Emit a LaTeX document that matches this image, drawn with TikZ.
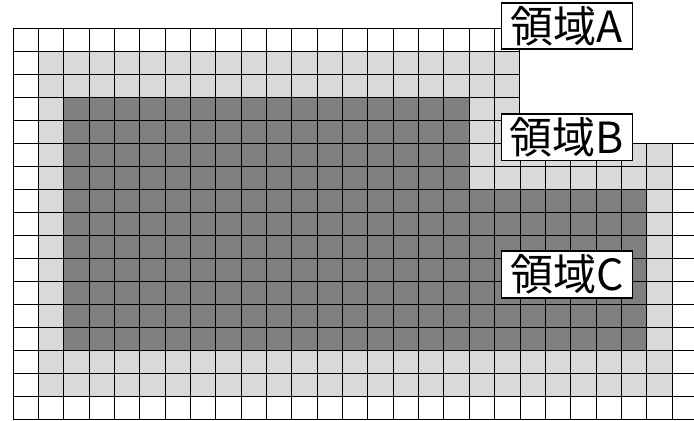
\documentclass[tikz,border=0pt]{standalone}
\usepackage{fontspec}
\newfontfamily\jpfont{Noto Sans CJK JP}
\definecolor{svetlo}{HTML}{D9D9D9}
\definecolor{temno}{HTML}{808080}

\begin{document}
\begin{tikzpicture}[xscale=0.8913, yscale=0.8084,
  oblast/.style={draw, fill=white, line width=1.8pt, inner sep=0pt,
    minimum width=131pt, minimum height=46.6pt,
    font=\jpfont\fontsize{43}{43}\selectfont}]
  \useasboundingbox (-0.513,-0.074) rectangle (26.864,18.23);
  \clip (-0.513,-0.074) rectangle (26.864,18.23);
  %светлая область
  \fill[svetlo] (1,1) rectangle (20,16);
  \fill[svetlo] (1,1) rectangle (26,12);
  %тёмная область
  \fill[temno] (2,3) rectangle (18,14);
  \fill[temno] (2,3) rectangle (25,10);
  %сетка
  \draw[line width=1pt] (0,12) grid (20,17);
  \draw[line width=1pt] (0,0) grid (27,12);
  %подписи
  \node[oblast] (A) at (21.855,17.1) {領域A};
  \node[oblast] (B) at (21.855,12.26) {領域B};
  \node[oblast] (C) at (21.855,6.29) {領域C};
\end{tikzpicture}
\end{document}
